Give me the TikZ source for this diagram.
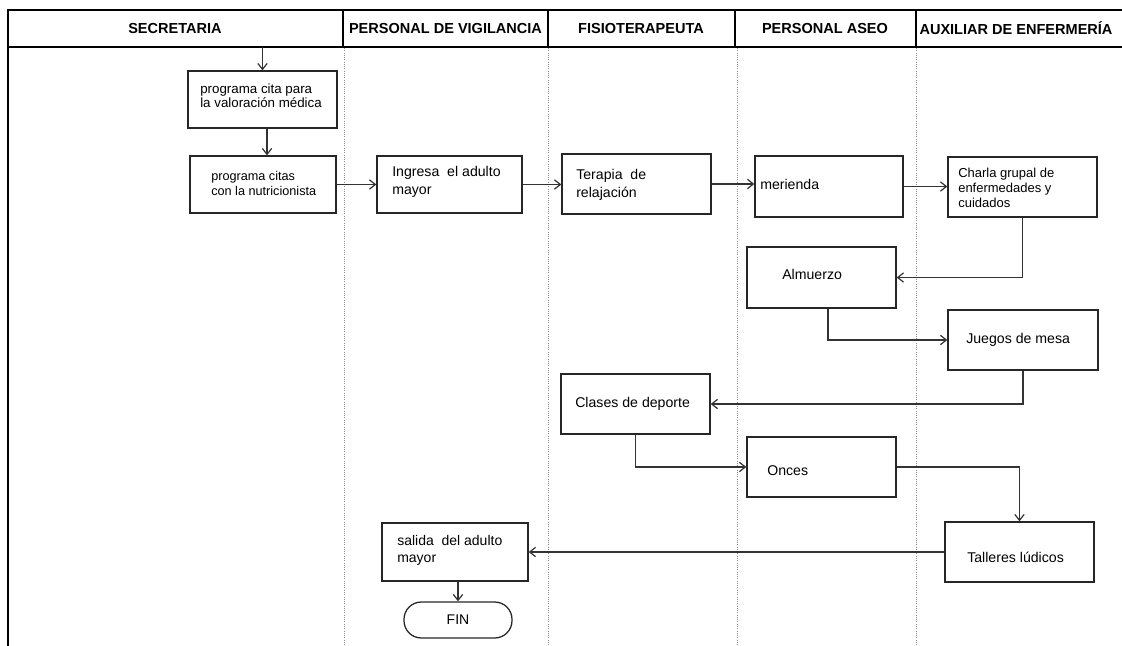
\documentclass[tikz,border=0pt]{standalone}
\usepackage{fontspec}
\setmainfont{Liberation Sans}
\usetikzlibrary{arrows.meta,calc}
\begin{document}
\begin{tikzpicture}[x=0.75pt,y=-0.75pt,
  box/.style={draw=black!85, line width=0.95pt, inner sep=0pt},
  txt/.style={anchor=west, align=left, inner sep=0pt, font=\fontsize{10.6}{13.5}\selectfont},
  stxt/.style={anchor=west, align=left, inner sep=0pt, font=\fontsize{9.75}{11}\selectfont},
  hdr/.style={inner sep=0pt, font=\bfseries\fontsize{10.9}{13}\selectfont},
  arr/.style={draw=black!80, line width=0.9pt, -{Straight Barb[length=4.5pt,width=7pt]}},
  lane/.style={draw=black!45, line width=0.7pt, densely dotted},
  frame/.style={draw=black, line width=1.6pt}]
\useasboundingbox (0,0) rectangle (1122,646);
% header
\draw[frame] (8,10) -- (1122,10);
\draw[frame] (8,47) -- (1122,47);
\draw[frame] (8,9.2) -- (8,646);
\foreach \x in {343,548,735,916} \draw[frame] (\x,10) -- (\x,47);
\foreach \x in {344,548,737,916} \draw[lane] (\x,48) -- (\x,646);
\node[hdr] (h1) at (175,28.5) {SECRETARIA};
\node[hdr] (h2) at (445.5,28.5) {PERSONAL DE VIGILANCIA};
\node[hdr] (h3) at (641,28.5) {FISIOTERAPEUTA};
\node[hdr] (h4) at (825,28.5) {PERSONAL ASEO};
\node[hdr] (h5) at (1016,28.5) {AUXILIAR DE ENFERMERÍA};
% boxes
\node[box, minimum width=111.75pt, minimum height=42.75pt] (b1) at (262.5,99.5) {};
\node[stxt, font=\fontsize{10}{10.5}\selectfont] (t1) at (200,96) {programa cita para\\la valoración médica};
\node[box, minimum width=109.5pt, minimum height=42.75pt] (b2) at (263,184.5) {};
\node[stxt, font=\fontsize{9.5}{11.25}\selectfont] (t2) at (211,183.5) {programa citas\\con la nutricionista};
\node[box, minimum width=108.75pt, minimum height=42.75pt] (b3) at (449.5,184.5) {};
\node[txt] (t3) at (392,182) {Ingresa\ \ el adulto\\mayor};
\node[box, minimum width=111.75pt, minimum height=45pt] (b4) at (636.5,184) {};
\node[txt] (t4) at (576,185) {Terapia\ \ de\\relajación};
\node[box, minimum width=111pt, minimum height=45.75pt] (b5) at (829,186.5) {};
\node[txt] (t5) at (760,184) {merienda};
\node[box, minimum width=111.75pt, minimum height=45pt] (b6) at (1022.5,187) {};
\node[stxt] (t6) at (958,188) {Charla grupal de\\enfermedades y\\cuidados};
\node[box, minimum width=111.75pt, minimum height=45.75pt] (b7) at (821.5,277.5) {};
\node[txt] (t7) at (782,274) {Almuerzo};
\node[box, minimum width=112.5pt, minimum height=45pt] (b8) at (1023,340) {};
\node[txt] (t8) at (966,340) {Juegos de mesa};
\node[box, minimum width=111.75pt, minimum height=45pt] (b9) at (635.5,404) {};
\node[txt] (t9) at (575,404) {Clases de deporte};
\node[box, minimum width=111.75pt, minimum height=45pt] (b10) at (821.5,467) {};
\node[txt] (t10) at (767,471) {Onces};
\node[box, minimum width=111.75pt, minimum height=45pt] (b11) at (1019.5,552) {};
\node[txt] (t11) at (967,557) {Talleres\ lúdicos};
\node[box, minimum width=109.5pt, minimum height=43.5pt] (b12) at (455,552) {};
\node[txt, font=\fontsize{10.5}{12.75}\selectfont] (t12) at (397,550.5) {salida\ \ del adulto\\mayor};
\node[box, rounded corners=13pt, minimum width=81pt, minimum height=27pt, font=\fontsize{10.5}{12}\selectfont] (fin) at (458,620) {FIN};
% connectors
\coordinate (s0) at (262.5,47);
\draw[arr] (s0) -- (b1.north);
\draw[arr] ([xshift=3.4pt]b1.south) -- ([xshift=3.4pt]b1.south |- b2.north);
\draw[arr] (b2.east) -- (b2.east -| b3.west);
\draw[arr] (b3.east) -- (b3.east -| b4.west);
\draw[arr] (b4.east) -- (b4.east -| b5.west);
\draw[arr] (b5.east) -- (b5.east -| b6.west);
\draw[arr] (b6.south) |- (b7.east);
\draw[arr] ([xshift=4.9pt]b7.south) |- (b8.west);
\draw[arr] (b8.south) |- (b9.east);
\draw[arr] (b9.south) |- (b10.west);
\draw[arr] (b10.east) -| (b11.north);
\draw[arr] (b11.west) -- (b11.west -| b12.east);
\draw[arr] (b12.south -| fin.north) -- (fin.north);
\end{tikzpicture}
\end{document}
